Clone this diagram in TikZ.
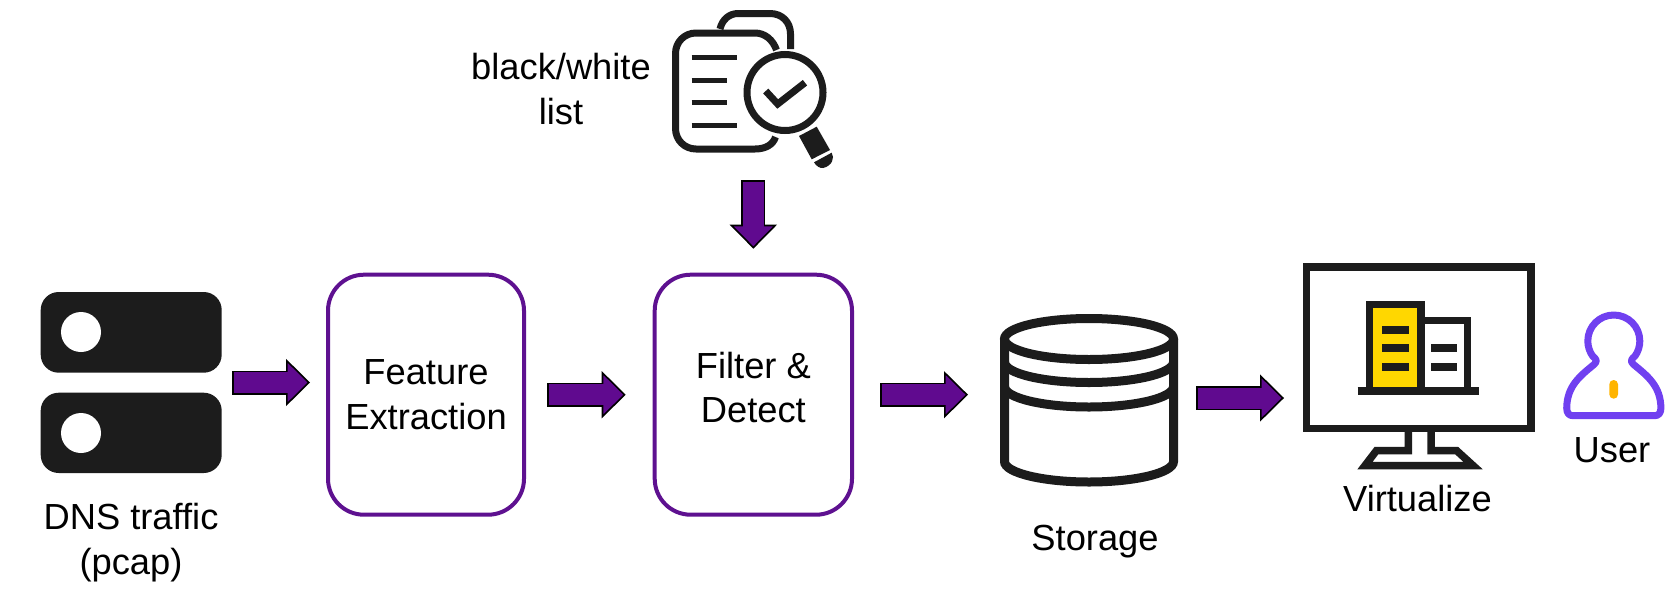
\documentclass[tikz,border=0pt]{standalone}
\usepackage{fontspec}
\setmainfont{Liberation Sans}
\usetikzlibrary{arrows.meta,calc}
\definecolor{flowpurple}{HTML}{600A8F}
\definecolor{boxpurple}{HTML}{5E1190}
\definecolor{icondark}{HTML}{1C1C1C}
\definecolor{bldyellow}{HTML}{FFD700}
\definecolor{userviolet}{HTML}{7040F0}
\definecolor{pillamber}{HTML}{FFB400}
\tikzset{
  lbl/.style={inner sep=0pt,outer sep=0pt,align=center,text=black,anchor=base,
    font=\fontsize{36.3}{44.8}\selectfont},
  procbox/.style={draw=boxpurple,line width=4pt,rounded corners=36pt,inner sep=0pt,
    align=center,text=black,font=\fontsize{36.3}{44.8}\selectfont,text depth=0pt},
  iconbox/.style={inner sep=0pt,outer sep=0pt},
  flow/.style={line width=24pt,draw=black,
    -{Triangle[length=24pt,width=47pt,line width=1.6pt,color=black,fill=flowpurple]},
    postaction={draw=flowpurple,line width=21pt,shorten >=22pt,shorten <=1.5pt,arrows=-}},
  ink/.style={draw=icondark,line cap=butt,line join=miter},
  solid ink/.style={fill=icondark,draw=none},
}
\begin{document}
\begin{tikzpicture}[x=1pt,y=-1pt]
\useasboundingbox (0,0) rectangle (1680,600);
\fill[white] (0,0) rectangle (1680,600);

% invisible extents of the icons
\node[iconbox,minimum width=181pt,minimum height=181pt] (dns) at (131.2,382.5) {};
\node[iconbox,minimum width=163pt,minimum height=158pt] (listicon) at (753.35,89) {};
\node[iconbox,minimum width=178pt,minimum height=173pt] (storage) at (1089,400.5) {};
\node[iconbox,minimum width=232pt,minimum height=206pt] (monitor) at (1418.7,366) {};
\node[iconbox,minimum width=101pt,minimum height=107pt] (usericon) at (1613.8,365.5) {};

% process boxes
\node[procbox,minimum width=196pt,minimum height=240pt,text height=68.6pt] (fe) at (426,394.7) {Feature\\Extraction};
\node[procbox,minimum width=197.3pt,minimum height=240pt,text height=56.5pt] (fd) at (753.35,394.7) {Filter \&\\Detect};

% DNS servers
\fill[icondark,rounded corners=18pt] (40.7,292) rectangle (221.7,372.7);
\fill[icondark,rounded corners=18pt] (40.7,392.7) rectangle (221.7,473);
\fill[white] (81,332) circle[radius=20pt];
\fill[white] (81,433) circle[radius=20pt];

% document + magnifier
\begin{scope}[ink,line width=7pt]
\draw (776.5,50) .. controls (773,40) and (765,33) .. (755,33) -- (696,33)
  .. controls (684.5,33) and (675.5,42) .. (675.5,53.5) -- (675.5,128.5)
  .. controls (675.5,140) and (684.5,149) .. (696,149) -- (755,149)
  .. controls (765,149) and (773,145) .. (775.5,137);
\draw (720,29) .. controls (722,20) and (729,13.5) .. (738,13.5) -- (770,13.5)
  .. controls (782,13.5) and (790.5,22) .. (790.5,34) -- (790.5,49);
\draw (785,92.5) circle[radius=38pt];
\draw (765.7,91) -- (777.7,104) -- (805,82.7);
\end{scope}
\begin{scope}[ink,line width=5pt]
\draw (691.7,57) -- (737.3,57);
\draw (691.7,80) -- (727,80);
\draw (691.7,102.5) -- (727,102.5);
\draw (691.7,125.3) -- (737.3,125.3);
\end{scope}
\fill[icondark] (799,136) -- (816.7,126.7) -- (830,150) -- (811.7,159.3) -- cycle;
\fill[icondark] (814,162.3) -- (831.7,152.7) .. controls (835,158) and (832,166) .. (823,168)
  .. controls (820,168.5) and (816,166) .. (814,162.3) -- cycle;

% storage cylinder
\begin{scope}[ink,line width=9pt]
\draw (1089,339) ellipse[x radius=84.5pt,y radius=20.5pt];
\draw (1004.5,339) -- (1004.5,461.5) .. controls (1004.5,472.8) and (1042.7,482) .. (1089,482)
  .. controls (1135.3,482) and (1173.5,472.8) .. (1173.5,461.5) -- (1173.5,339);
\draw (1004.5,362) .. controls (1004.5,373.3) and (1042.7,382.5) .. (1089,382.5)
  .. controls (1135.3,382.5) and (1173.5,373.3) .. (1173.5,362);
\draw (1004.5,386.5) .. controls (1004.5,397.8) and (1042.7,407) .. (1089,407)
  .. controls (1135.3,407) and (1173.5,397.8) .. (1173.5,386.5);
\end{scope}

% monitor
\fill[bldyellow] (1373,308) rectangle (1417,387);
\begin{scope}[ink,line width=7.5pt]
\draw (1306.4,267) rectangle (1531,428.3);
\draw (1408.4,432) -- (1408.4,450.5) -- (1376.5,450.5) -- (1365,465.5) -- (1473,465.5)
  -- (1456.5,450.5) -- (1431,450.5) -- (1431,432);
\draw (1369.4,391) -- (1369.4,304.5) -- (1421,304.5) -- (1421,391);
\draw (1421,320.6) -- (1467.5,320.6) -- (1467.5,391);
\draw (1357.7,391) -- (1479,391);
\end{scope}
\fill[icondark] (1382,326) rectangle (1408.7,334);
\fill[icondark] (1382,344) rectangle (1408.7,352);
\fill[icondark] (1382,362.7) rectangle (1408.7,370.7);
\fill[icondark] (1430.7,344) rectangle (1457,352);
\fill[icondark] (1430.7,362.7) rectangle (1457,370.7);

% user
\draw[userviolet,line width=7pt,line join=round]
  (1635,356) .. controls (1638.1,351.7) and (1639.8,346.3) .. (1639.8,341)
  .. controls (1639.8,326.6) and (1628.2,315) .. (1613.8,315)
  .. controls (1599.4,315) and (1587.8,326.6) .. (1587.8,341)
  .. controls (1587.8,346.3) and (1589.5,351.7) .. (1592.6,356)
  .. controls (1596,359) and (1598,361) .. (1594,364.5)
  .. controls (1580,376) and (1567,386) .. (1566.7,408)
  .. controls (1566.7,413) and (1569,415.7) .. (1573,415.7) -- (1654.6,415.7)
  .. controls (1658.6,415.7) and (1660.9,413) .. (1660.9,408)
  .. controls (1660.6,386) and (1647.6,376) .. (1633.6,364.5)
  .. controls (1629.6,361) and (1631.6,359) .. (1635,356) -- cycle;
\fill[pillamber,rounded corners=4.3pt] (1609.3,380) rectangle (1618,398.7);

% labels
\node[lbl] (dnslabel) at (131,574.5) {DNS traffic\\(pcap)};
\node[lbl] (listlabel) at (561,124) {black/white\\list};
\node[lbl] (storagelabel) at (1095,550) {Storage};
\node[lbl] (virtlabel) at (1417.5,511) {Virtualize};
\node[lbl] (userlabel) at (1612,462) {User};

% connectors
\draw[flow] ([xshift=10.5pt]dns.east) -- ([xshift=-16pt]dns.east -| fe.west);
\draw[flow] ([xshift=21pt]fe.east) -- ([xshift=-27pt]fe.east -| fd.west);
\draw[flow] ([xshift=26pt]fd.east) -- ([xshift=-32pt]fd.east -| storage.west);
\draw[flow] ([xshift=18pt,yshift=2.5pt]storage.east) -- ([xshift=-18.7pt,yshift=2.5pt]storage.east -| monitor.west);
\draw[flow] ([yshift=-12pt]listicon.south) -- ([yshift=24pt]fd.north);
\end{tikzpicture}
\end{document}
